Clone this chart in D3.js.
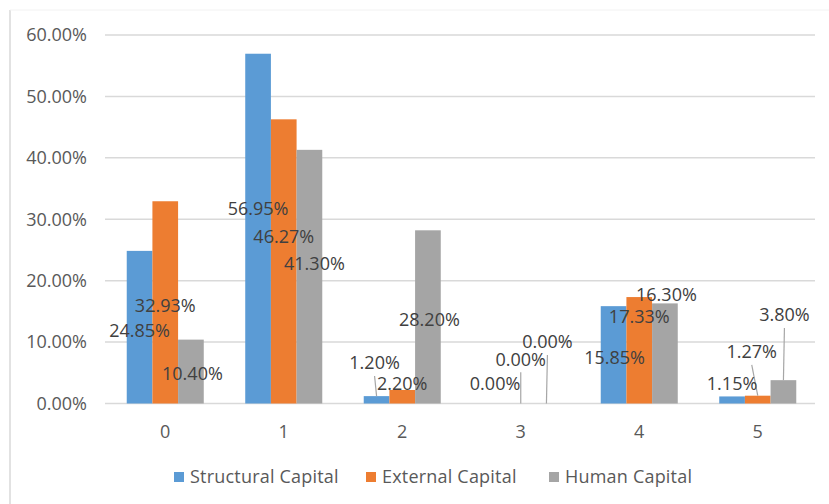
<!DOCTYPE html>
<html>
<head>
<meta charset="UTF-8">
<script src="https://d3js.org/d3.v7.min.js"></script>
<style>
  body { margin: 0; background: #fff; }
  svg { display: block; font-family: "Open Sans", sans-serif; }
  .tick-label { fill: #595959; font-size: 18px; }
  .data-label { fill: #404040; font-size: 18px; }
  .legend-label { fill: #595959; font-size: 18px; letter-spacing: 0.2px; }
</style>
</head>
<body>
<svg id="chart" width="829" height="504"></svg>
<script>
// categories and series (percent)
var categories = ["0", "1", "2", "3", "4", "5"];
var seriesNames = ["Structural Capital", "External Capital", "Human Capital"];
var structural = [24.85, 56.95, 1.20, 0.00, 15.85, 1.15];
var external   = [32.93, 46.27, 2.20, 0.00, 17.33, 1.27];
var human      = [10.40, 41.30, 28.20, 0.00, 16.30, 3.80];
var yTicks = [0, 10, 20, 30, 40, 50, 60];
var colors = ["#5B9BD5", "#ED7D31", "#A5A5A5"];

// where each data label sits: [dx px from bar centre, level in % on the y scale, leader line?]
var labelPlace = [
  [[0, 11.8, 0], [0, 16.0, 0], [1.5, 4.8, 0]],
  [[0, 31.7, 0], [0, 27.1, 0], [5, 22.7, 0]],
  [[-2, 6.6, 1], [0, 3.3, 0], [1.5, 13.6, 0]],
  [[0, 3.3, 0], [0, 7.2, 1], [1, 10.0, 1]],
  [[1, 7.4, 0], [0, 14.1, 0], [1.5, 17.7, 0]],
  [[0, 3.3, 0], [-6, 8.4, 1], [1, 14.4, 1]]
];

var allSeries = [structural, external, human];

var svg = d3.select('#chart');

// chart frame
svg.append('line').attr('x1', 10).attr('x2', 10).attr('y1', 10).attr('y2', 504)
  .attr('stroke', '#D9D9D9').attr('stroke-width', 1.5);
svg.append('line').attr('x1', 10).attr('x2', 829).attr('y1', 10).attr('y2', 10)
  .attr('stroke', '#F2F2F2').attr('stroke-width', 1);

var x = d3.scaleBand().domain(categories).range([106, 817])
  .paddingInner(0.35).paddingOuter(0.175);
var xInner = d3.scaleBand().domain(d3.range(3)).range([0, x.bandwidth()]);
var y = d3.scaleLinear().domain([0, 60]).range([403.5, 35]);

// grid
svg.append('g').selectAll('line')
  .data(yTicks)
  .join('line')
  .attr('x1', 105).attr('x2', 815)
  .attr('y1', function(d){ return y(d); })
  .attr('y2', function(d){ return y(d); })
  .attr('stroke', '#D9D9D9').attr('stroke-width', 1.5);

// y labels
svg.append('g').selectAll('text')
  .data(yTicks)
  .join('text')
  .attr('class', 'tick-label')
  .attr('x', 87)
  .attr('y', function(d){ return y(d); })
  .attr('dy', '0.35em')
  .attr('text-anchor', 'end')
  .text(function(d){ return d.toFixed(2) + '%'; });

// x labels
svg.append('g').selectAll('text')
  .data(categories)
  .join('text')
  .attr('class', 'tick-label')
  .attr('x', function(d){ return x(d) + x.bandwidth() / 2; })
  .attr('y', 432)
  .attr('dy', '0.35em')
  .attr('text-anchor', 'middle')
  .text(function(d){ return d; });

// bars
var groups = svg.append('g').selectAll('g')
  .data(categories)
  .join('g')
  .attr('transform', function(d){ return 'translate(' + x(d) + ',0)'; });

groups.selectAll('rect')
  .data(function(d, i){ return allSeries.map(function(s, k){ return {k: k, v: s[i]}; }); })
  .join('rect')
  .attr('x', function(d){ return xInner(d.k); })
  .attr('width', xInner.bandwidth())
  .attr('y', function(d){ return y(d.v); })
  .attr('height', function(d){ return y(0) - y(d.v); })
  .attr('fill', function(d){ return colors[d.k]; });

// data labels
var labels = [];
categories.forEach(function(c, i){
  allSeries.forEach(function(s, k){
    var p = labelPlace[i][k];
    var bx = x(c) + xInner(k) + xInner.bandwidth() / 2;
    labels.push({v: s[i], bx: bx, by: y(s[i]), lx: bx + p[0], ly: y(p[1]), leader: p[2]});
  });
});

svg.append('g').selectAll('line')
  .data(labels.filter(function(d){ return d.leader; }))
  .join('line')
  .attr('x1', function(d){ return d.lx; })
  .attr('y1', function(d){ return d.ly + 13; })
  .attr('x2', function(d){ return d.bx; })
  .attr('y2', function(d){ return d.by; })
  .attr('stroke', '#A6A6A6').attr('stroke-width', 1.2);

svg.append('g').selectAll('text')
  .data(labels)
  .join('text')
  .attr('class', 'data-label')
  .attr('x', function(d){ return d.lx; })
  .attr('y', function(d){ return d.ly; })
  .attr('dy', '0.35em')
  .attr('text-anchor', 'middle')
  .text(function(d){ return d.v.toFixed(2) + '%'; });

// legend
var legendX = [174, 366, 549];
var legend = svg.append('g').selectAll('g')
  .data(seriesNames)
  .join('g')
  .attr('transform', function(d, i){ return 'translate(' + legendX[i] + ',477)'; });
legend.append('rect')
  .attr('x', 0).attr('y', -5).attr('width', 10).attr('height', 10)
  .attr('fill', function(d, i){ return colors[i]; });
legend.append('text')
  .attr('class', 'legend-label')
  .attr('x', 16)
  .attr('dy', '0.35em')
  .text(function(d){ return d; });
</script>
</body>
</html>
